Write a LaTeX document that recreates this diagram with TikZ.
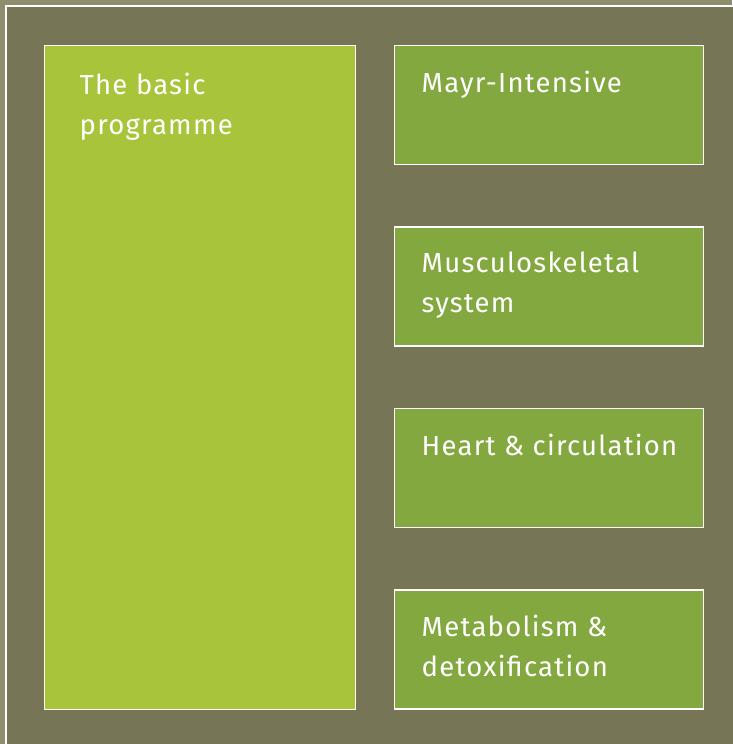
\documentclass[tikz,border=0pt]{standalone}
\usepackage{fontspec}
\setmainfont{Fira Sans}[LetterSpace=4.5]
\definecolor{olivedark}{HTML}{767556}
\definecolor{olivelight}{HTML}{8F8E6C}
\definecolor{limegreen}{HTML}{A8C43A}
\definecolor{leafgreen}{HTML}{84A840}

\begin{document}
\begin{tikzpicture}
[
    x=1pt, y=-1pt,
    box/.style={draw=white, line width=1.5pt, anchor=north west, inner sep=0pt},
    basic/.style={box, fill=limegreen, minimum width=311pt, minimum height=664pt},
    module/.style={box, fill=leafgreen, minimum width=309pt, minimum height=119pt},
    caption/.style={text=white, font=\fontsize{27.5}{40}\selectfont, align=left, anchor=north west, inner sep=0pt},
]
\useasboundingbox (0,0) rectangle (732,744);
\fill[olivelight] (0,0) rectangle (732,744);
\fill[olivedark, draw=white, line width=1.5pt] (6,6) rectangle (760,770);
\node [basic] (basic) at (43.5,44.5) {};
\node [caption] (basiclabel) at ([shift={(36,28)}]basic.north west)
{The basic\\programme};
\node [module] (mayr) at (393.5,44.5) {};
\node [caption] (mayrlabel) at ([shift={(28,26)}]mayr.north west)
{Mayr-Intensive};
\node [module] (muscle) at (393.5,226) {};
\node [caption] (musclelabel) at ([shift={(28,26)}]muscle.north west)
{Musculoskeletal\\system};
\node [module] (heart) at (393.5,407.5) {};
\node [caption] (heartlabel) at ([shift={(28,26)}]heart.north west)
{Heart \& circulation};
\node [module] (metab) at (393.5,589) {};
\node [caption] (metablabel) at ([shift={(28,26)}]metab.north west)
{Metabolism \&\\detoxification};
\end{tikzpicture}
\end{document}
